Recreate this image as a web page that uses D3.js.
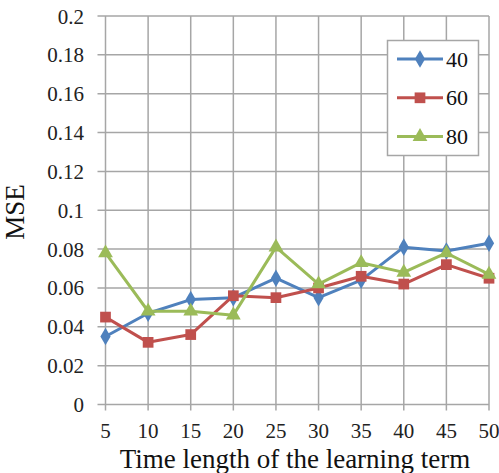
<!DOCTYPE html>
<html>
<head>
<meta charset="utf-8">
<script src="https://cdn.jsdelivr.net/npm/d3@7"></script>
<style>
  html, body { margin: 0; padding: 0; background: #fff; }
  svg { display: block; }
  svg text { font-family: "Liberation Serif", "Times New Roman", serif; }
</style>
</head>
<body>
<div id="chart"></div>
<script>
// values
const timeLengths = [5, 10, 15, 20, 25, 30, 35, 40, 45, 50]
const mse40 = [0.035, 0.047, 0.054, 0.055, 0.065, 0.055, 0.064, 0.081, 0.079, 0.083]
const mse60 = [0.045, 0.032, 0.036, 0.056, 0.055, 0.060, 0.066, 0.062, 0.072, 0.065]
const mse80 = [0.078, 0.048, 0.048, 0.046, 0.081, 0.062, 0.073, 0.068, 0.078, 0.067]
const yTicks = [0, 0.02, 0.04, 0.06, 0.08, 0.1, 0.12, 0.14, 0.16, 0.18, 0.2]
const seriesNames = ['40', '60', '80']

const width = 499, height = 473
const plot = { left: 105.5, right: 489, top: 16, bottom: 404.5 }

const series = [
  { name: seriesNames[0], values: mse40, color: '#4F81BD', symbol: d3.symbolDiamond, size: 90 },
  { name: seriesNames[1], values: mse60, color: '#C0504D', symbol: d3.symbolSquare, size: 115 },
  { name: seriesNames[2], values: mse80, color: '#9BBB59', symbol: d3.symbolTriangle, size: 95 }
]

const x = d3.scalePoint().domain(timeLengths).range([plot.left, plot.right])
const y = d3.scaleLinear().domain([0, 0.2]).range([plot.bottom, plot.top])

const svg = d3.select('#chart').append('svg')
  .attr('width', width).attr('height', height)

const gridColor = '#a6a6a6'
const serif = 'Liberation Serif, Times New Roman, serif'

// horizontal gridlines (with small tick stubs to the left)
svg.append('g').selectAll('line')
  .data(yTicks).join('line')
  .attr('x1', plot.left - 8).attr('x2', plot.right)
  .attr('y1', d => y(d)).attr('y2', d => y(d))
  .attr('stroke', gridColor).attr('stroke-width', 1.5)

// vertical gridlines (with tick stubs below the axis)
svg.append('g').selectAll('line')
  .data(timeLengths).join('line')
  .attr('x1', d => x(d)).attr('x2', d => x(d))
  .attr('y1', plot.top).attr('y2', plot.bottom + 6)
  .attr('stroke', gridColor).attr('stroke-width', 1.5)

// y tick labels
svg.append('g').selectAll('text')
  .data(yTicks).join('text')
  .attr('x', 84).attr('y', d => y(d) + 7.5)
  .attr('text-anchor', 'end')
  .attr('font-family', serif)
  .attr('font-size', 21).attr('fill', '#222')
  .text(d => d === 0 ? '0' : d3.format('~g')(d))

// x tick labels
svg.append('g').selectAll('text')
  .data(timeLengths).join('text')
  .attr('x', d => x(d)).attr('y', 438)
  .attr('text-anchor', 'middle')
  .attr('font-family', serif)
  .attr('font-size', 21).attr('fill', '#222')
  .text(d => d)

// axis titles
svg.append('text')
  .attr('x', 295).attr('y', 468)
  .attr('text-anchor', 'middle')
  .attr('font-family', serif)
  .attr('font-size', 27).attr('fill', '#111')
  .text('Time length of the learning term')

svg.append('text')
  .attr('transform', 'translate(24,212) rotate(-90)')
  .attr('text-anchor', 'middle')
  .attr('font-family', serif)
  .attr('font-size', 27).attr('fill', '#111')
  .text('MSE')

// series lines + markers
const line = d3.line()
  .x((d, i) => x(timeLengths[i]))
  .y(d => y(d))

series.forEach(s => {
  const g = svg.append('g')
  g.append('path')
    .datum(s.values)
    .attr('d', line)
    .attr('fill', 'none')
    .attr('stroke', s.color)
    .attr('stroke-width', 3)
    .attr('stroke-linejoin', 'round')
  g.selectAll('path.mk')
    .data(s.values).join('path')
    .attr('class', 'mk')
    .attr('d', d3.symbol().type(s.symbol).size(s.size))
    .attr('transform', (d, i) => 'translate(' + x(timeLengths[i]) + ',' + y(d) + ')')
    .attr('fill', s.color)
})

// legend
const legend = svg.append('g')
legend.append('rect')
  .attr('x', 387.5).attr('y', 40.5).attr('width', 91).attr('height', 115)
  .attr('fill', '#fff').attr('stroke', '#a6a6a6').attr('stroke-width', 1.5)

series.forEach((s, i) => {
  const ly = 59 + i * 38.8
  legend.append('line')
    .attr('x1', 397).attr('x2', 443).attr('y1', ly).attr('y2', ly)
    .attr('stroke', s.color).attr('stroke-width', 3)
  legend.append('path')
    .attr('d', d3.symbol().type(s.symbol).size(s.size))
    .attr('transform', 'translate(420,' + ly + ')')
    .attr('fill', s.color)
  legend.append('text')
    .attr('x', 446).attr('y', ly + 7.5)
    .attr('font-family', serif)
    .attr('font-size', 22).attr('fill', '#111')
    .text(s.name)
})
</script>
</body>
</html>
